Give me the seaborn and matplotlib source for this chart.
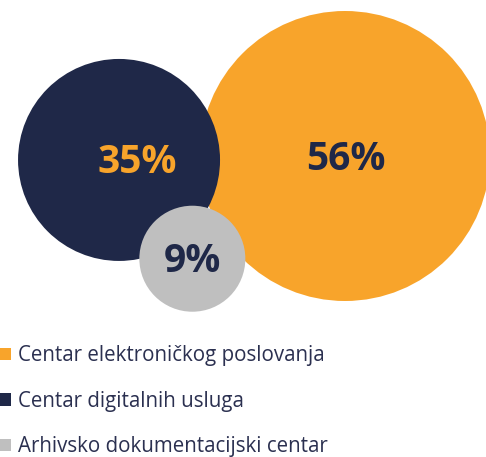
import numpy as np
import pandas as pd
import matplotlib.pyplot as plt
import seaborn as sns
from matplotlib.patches import Patch

# Data
categories = ["Centar elektroničkog poslovanja", "Centar digitalnih usluga",
              "Arhivsko dokumentacijski centar"]
shares = [56, 35, 9]
labels = ["56%", "35%", "9%"]

# Styles
colors = ["#F8A42B", "#1F2848", "#BFBFBF"]
label_colors = ["#1F2848", "#F8A42B", "#1F2848"]
label_dx = [1, 18, 0]       # label nudge in pixels
text_color = "#2B3050"
radius_px = [145, 101, 53]  # bubble radius in pixels

sns.set_theme(style="white")
plt.rcParams['font.family'] = ['Open Sans', 'DejaVu Sans']

DPI = 100
fig = plt.figure(figsize=(4.86, 4.57), dpi=DPI)
ax = fig.add_axes([0, 0, 1, 1])
ax.set_xlim(0, 486)
ax.set_ylim(457, 0)
ax.axis("off")

# simple packing: big bubble anchored, second one to its left, third below between them
r_o, r_n, r_g = radius_px
anchor = np.array([345.0, 156.0])
ang = np.deg2rad(179)
navy_c = anchor + (r_o + r_n - 20) * np.array([np.cos(ang), np.sin(ang)])
d1 = r_n + r_g - 31   # distance gray - navy
d2 = r_o + r_g - 14   # distance gray - orange
base = anchor - navy_c
L = np.linalg.norm(base)
a = (d1**2 - d2**2 + L**2) / (2 * L)
h = np.sqrt(d1**2 - a**2)
u = base / L
perp = np.array([-u[1], u[0]])
gray_c = navy_c + a * u + h * perp
if gray_c[1] < navy_c[1]:
    gray_c = navy_c + a * u - h * perp
centers = np.vstack([anchor, navy_c, gray_c])

df = pd.DataFrame({"category": categories, "share": shares,
                   "x": centers[:, 0], "y": centers[:, 1]})

size_map = {v: (2 * r * 72 / DPI) ** 2 for v, r in zip(shares, radius_px)}
sns.scatterplot(data=df, x="x", y="y", hue="category", size="share",
                sizes=size_map, palette=dict(zip(categories, colors)),
                linewidth=0, alpha=1, legend=False, ax=ax)

for (cx, cy), lab, col, dx in zip(centers, labels, label_colors, label_dx):
    ax.text(cx + dx, cy + 3, lab, ha="center", va="center", fontsize=28,
            fontweight="bold", color=col)

handles = [Patch(facecolor=c, edgecolor="none") for c in colors]
fig.legend(handles, categories, loc="upper left", bbox_to_anchor=(0.0, 0.245),
           frameon=False, fontsize=14.8, handlelength=0.54, handleheight=0.54,
           handletextpad=0.34, labelspacing=1.2, labelcolor=text_color,
           borderaxespad=0, borderpad=0)

fig.savefig("out.png", dpi=DPI)
